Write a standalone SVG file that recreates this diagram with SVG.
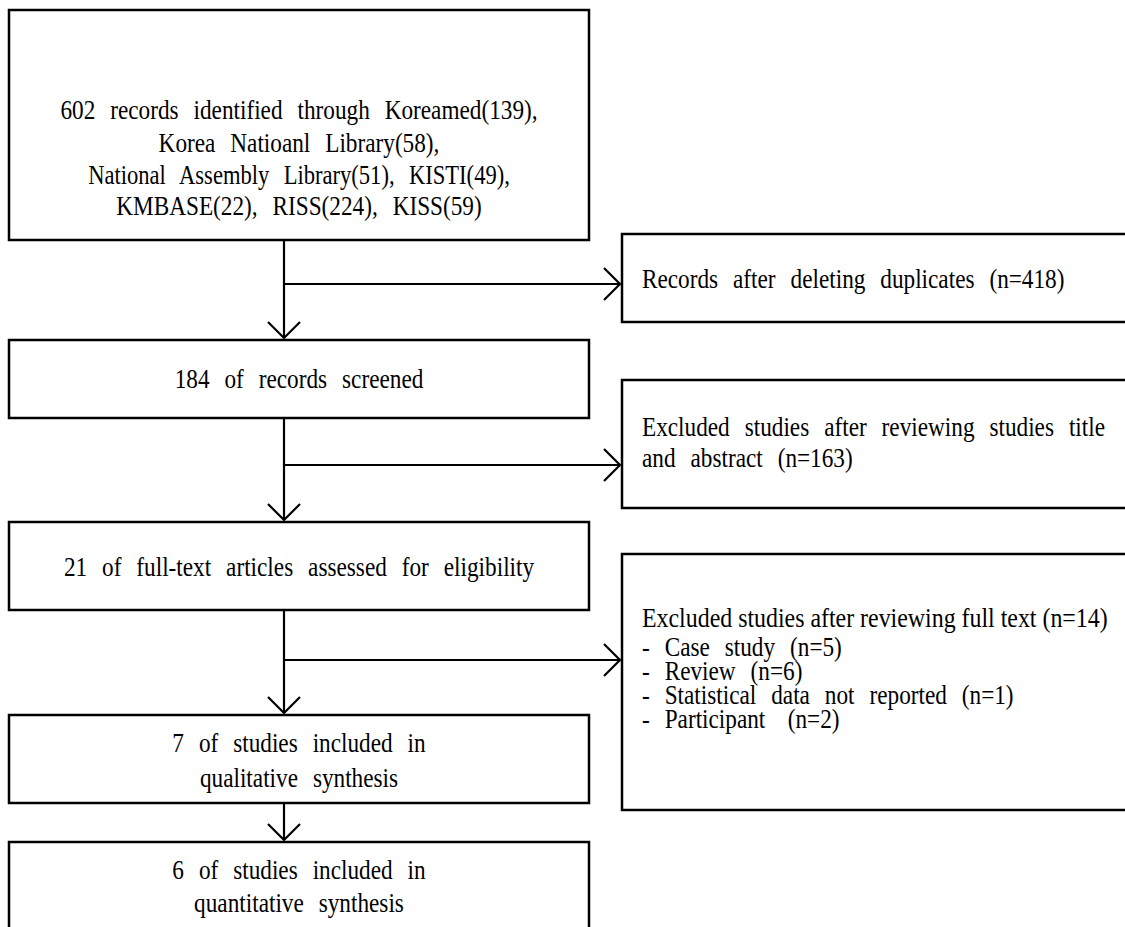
<svg xmlns="http://www.w3.org/2000/svg" width="1125" height="927" viewBox="0 0 1125 927">
<style>
.box{fill:#fff;stroke:#000;stroke-width:2.5}
.conn{fill:none;stroke:#000;stroke-width:2.2}
.t{font-family:"Liberation Serif","Times New Roman",serif;font-size:28px;fill:#000;word-spacing:11px}
.c{text-anchor:middle}
.n{word-spacing:0px}
</style>
<defs>
<marker id="arr" markerUnits="userSpaceOnUse" viewBox="-20 -20 24 40" refX="0" refY="0" markerWidth="24" markerHeight="40" orient="auto" overflow="visible">
<path d="M-16,-16 L0,0 L-16,16" fill="none" stroke="#000" stroke-width="2.2"/>
</marker>
</defs>
<rect width="1125" height="927" fill="#fff"/>
<g id="connectors">
<path class="conn" d="M284,240 V338" marker-end="url(#arr)"/>
<path class="conn" d="M284,284 H620" marker-end="url(#arr)"/>
<path class="conn" d="M284,418 V520" marker-end="url(#arr)"/>
<path class="conn" d="M284,465 H620" marker-end="url(#arr)"/>
<path class="conn" d="M284,610 V713" marker-end="url(#arr)"/>
<path class="conn" d="M284,660 H620" marker-end="url(#arr)"/>
<path class="conn" d="M284,803 V840" marker-end="url(#arr)"/>
</g>
<g id="identified">
<rect class="box" x="9" y="10" width="580" height="230"/>
<text class="t c" transform="translate(299,119) scale(0.83,1)">602 records identified through Koreamed(139),</text>
<text class="t c" transform="translate(299,152) scale(0.83,1)">Korea Natioanl Library(58),</text>
<text class="t c" transform="translate(299,184) scale(0.83,1)" textLength="508" lengthAdjust="spacingAndGlyphs">National Assembly Library(51), KISTI(49),</text>
<text class="t c" transform="translate(299,215) scale(0.83,1)">KMBASE(22), RISS(224), KISS(59)</text>
</g>
<g id="duplicates">
<rect class="box" x="622" y="234" width="510" height="88"/>
<text class="t" transform="translate(642,288) scale(0.83,1)">Records after deleting duplicates (n=418)</text>
</g>
<g id="screened">
<rect class="box" x="9" y="340" width="580" height="78"/>
<text class="t c" transform="translate(299,388) scale(0.83,1)">184 of records screened</text>
</g>
<g id="excluded-title">
<rect class="box" x="622" y="380" width="510" height="128"/>
<text class="t" transform="translate(642,436) scale(0.83,1)">Excluded studies after reviewing studies title</text>
<text class="t" transform="translate(642,467) scale(0.83,1)">and abstract (n=163)</text>
</g>
<g id="fulltext">
<rect class="box" x="9" y="522" width="580" height="88"/>
<text class="t c" transform="translate(299,576) scale(0.83,1)">21 of full-text articles assessed for eligibility</text>
</g>
<g id="excluded-fulltext">
<rect class="box" x="622" y="554" width="510" height="256"/>
<text class="t n" transform="translate(642,627) scale(0.83,1)" textLength="561" lengthAdjust="spacingAndGlyphs">Excluded studies after reviewing full text (n=14)</text>
<text class="t" transform="translate(642,656) scale(0.83,1)">- Case study (n=5)</text>
<text class="t" transform="translate(642,680) scale(0.83,1)">- Review (n=6)</text>
<text class="t" transform="translate(642,704) scale(0.83,1)">- Statistical data not reported (n=1)</text>
<text class="t" transform="translate(642,728) scale(0.83,1)">- Participant <tspan dx="9">(n=2)</tspan></text>
</g>
<g id="qualitative">
<rect class="box" x="9" y="715" width="580" height="88"/>
<text class="t c" transform="translate(299,752) scale(0.83,1)">7 of studies included in</text>
<text class="t c" transform="translate(299,787) scale(0.83,1)">qualitative synthesis</text>
</g>
<g id="quantitative">
<rect class="box" x="9" y="842" width="580" height="95"/>
<text class="t c" transform="translate(299,879) scale(0.83,1)">6 of studies included in</text>
<text class="t c" transform="translate(299,912) scale(0.83,1)">quantitative synthesis</text>
</g>
</svg>
